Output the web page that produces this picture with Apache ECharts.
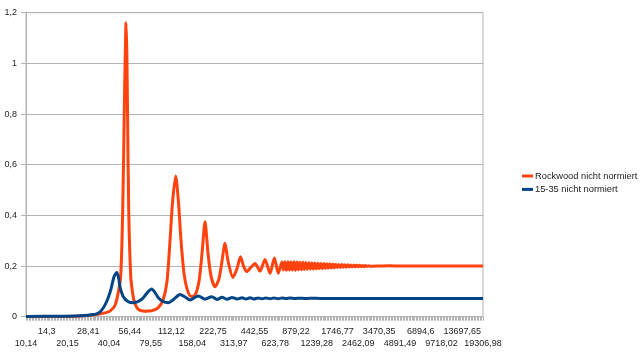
<!DOCTYPE html>
<html>
<head>
<meta charset="utf-8">
<script src="https://cdn.jsdelivr.net/npm/echarts@6/dist/echarts.min.js"></script>
<style>html,body{margin:0;padding:0;background:#fff}#c{width:640px;height:360px}</style>
</head>
<body>
<div id="c"></div>
<script>
// X tick labels (category positions 0..22)
const tickLabels = ['10,14','14,3','20,15','28,41','40,04','56,44','79,55','112,12','158,04','222,75','313,97','442,55','623,78','879,22','1239,28','1746,77','2462,09','3470,35','4891,49','6894,6','9718,02','13697,65','19306,98'];

// Rockwood nicht normiert: positions (in tick-label index units) and values
const rockwoodPos = [0,1.637,2.6,3.322,3.804,4.044,4.285,4.429,4.559,4.656,4.733,4.781,4.815,4.853,4.887,4.945,5.041,5.128,5.214,5.392,5.729,6.066,6.355,6.596,6.789,6.933,7.053,7.207,7.342,7.463,7.607,7.752,7.944,8.137,8.329,8.474,8.618,8.763,8.907,9.100,9.292,9.437,9.581,9.726,9.966,10.159,10.327,10.472,10.626,10.833,11.026,11.267,11.507,11.748,11.955,12.147,
  12.32,12.39,12.46,12.54,12.61,12.68,12.75,12.82,12.90,12.97,13.04,13.11,13.18,13.26,13.33,13.40,13.47,13.54,13.62,13.69,13.76,13.83,13.90,13.98,14.05,14.12,14.19,14.26,14.34,14.41,14.48,14.55,14.62,14.70,14.77,14.84,14.91,14.98,15.06,15.13,15.20,15.27,15.34,15.42,15.49,15.56,15.63,15.70,15.78,15.85,15.92,15.99,16.06,16.14,16.21,16.28,16.35,16.42,16.50,16.57,
  17.04,17.5,18,19,20,21,22];
const rockwoodVal = [0,0.001,0.003,0.008,0.015,0.022,0.045,0.09,0.16,0.42,0.82,1.05,1.16,1.05,0.82,0.42,0.16,0.095,0.06,0.03,0.022,0.024,0.035,0.065,0.14,0.30,0.45,0.555,0.45,0.30,0.17,0.11,0.08,0.085,0.14,0.25,0.375,0.25,0.16,0.118,0.15,0.22,0.29,0.22,0.155,0.19,0.237,0.20,0.178,0.195,0.21,0.18,0.226,0.171,0.232,0.172,
  0.216,0.184,0.217,0.183,0.217,0.184,0.216,0.184,0.217,0.183,0.216,0.185,0.215,0.185,0.215,0.186,0.214,0.187,0.213,0.188,0.212,0.188,0.212,0.189,0.211,0.190,0.210,0.190,0.210,0.191,0.209,0.191,0.209,0.192,0.208,0.193,0.207,0.194,0.206,0.194,0.206,0.195,0.205,0.195,0.205,0.196,0.204,0.196,0.204,0.197,0.203,0.197,0.203,0.198,0.202,0.198,0.202,0.199,0.201,0.199,
  0.2,0.201,0.2,0.2,0.2,0.2,0.2];

// 15-35 nicht normiert
const blue1535Pos = [0,1.637,2.6,3.081,3.404,3.645,3.885,4.078,4.237,4.367,4.453,4.526,4.685,4.925,5.166,5.571,5.84,6.052,6.211,6.37,6.596,6.851,7.126,7.414,7.655,7.896,8.089,8.296,8.618,8.941,9.196,9.437,9.677,9.918,10.159,10.4,10.592,10.785,10.977,11.17,11.363,11.555,11.748,11.94,12.133,12.326,12.518,12.711,12.951,13.192,13.43,13.674,14.2,16,19,22];
const blue1535Val = [0.001,0.002,0.004,0.007,0.011,0.026,0.06,0.105,0.158,0.174,0.155,0.118,0.079,0.059,0.055,0.069,0.095,0.109,0.095,0.075,0.06,0.055,0.07,0.088,0.078,0.066,0.074,0.082,0.069,0.079,0.068,0.077,0.069,0.076,0.07,0.075,0.07,0.075,0.07,0.074,0.071,0.074,0.071,0.074,0.071,0.0735,0.0715,0.0735,0.0718,0.0732,0.0718,0.0728,0.072,0.072,0.072,0.072];

const seriesNames = ['Rockwood nicht normiert', '15-35 nicht normiert'];
const zip = (a, b) => a.map((x, i) => [x, b[i]]);

const chart = echarts.init(document.getElementById('c'), null, {renderer: 'canvas'});
const gray = '#b3b3b3';
const txt = '#222';
const labelFor = (v, parity) => { const i = Math.round(v); return i % 2 === parity ? (tickLabels[i] || '') : ''; };
chart.setOption({
  animation: false,
  textStyle: {fontFamily: 'Liberation Sans, Arial, sans-serif'},
  grid: {left: 26, right: 157, top: 12.7, bottom: 43.3, show: true, borderColor: gray, borderWidth: 1, backgroundColor: 'transparent'},
  legend: {
    orient: 'vertical', left: 517, top: 166, itemWidth: 11, itemHeight: 3, itemGap: 3.4,
    icon: 'rect',
    textStyle: {fontSize: 9.3, color: txt, lineHeight: 10, padding: [0,0,0,-3]},
    data: seriesNames
  },
  xAxis: [{
    type: 'value', min: 0, max: 22, interval: 1, position: 'bottom',
    axisLine: {show: true, lineStyle: {color: gray}},
    axisTick: {show: true, length: 4, lineStyle: {color: gray}},
    minorTick: {show: true, splitNumber: 14, length: 4, lineStyle: {color: gray}},
    splitLine: {show: false},
    axisLabel: {fontSize: 9, color: txt, margin: 10.5, showMinLabel: true, showMaxLabel: true,
      formatter: v => labelFor(v, 1)}
  }, {
    type: 'value', min: 0, max: 22, interval: 1, position: 'bottom',
    axisLine: {show: false}, axisTick: {show: false}, splitLine: {show: false},
    axisLabel: {fontSize: 9, color: txt, margin: 22, showMinLabel: true, showMaxLabel: true,
      formatter: v => labelFor(v, 0)}
  }],
  yAxis: {
    type: 'value', min: 0, max: 1.2, interval: 0.2,
    axisLine: {show: true, lineStyle: {color: gray}},
    axisTick: {show: true, length: 5, lineStyle: {color: gray}},
    splitLine: {show: true, lineStyle: {color: gray, width: 1}},
    axisLabel: {fontSize: 9, color: txt, margin: 9, formatter: v => String(+v.toFixed(1)).replace('.', ',')}
  },
  series: [
    {name: seriesNames[0], type: 'line', xAxisIndex: 0, data: zip(rockwoodPos, rockwoodVal), showSymbol: false, smooth: 0.25,
     lineStyle: {color: '#ff420e', width: 3}, itemStyle: {color: '#ff420e'}},
    {name: seriesNames[1], type: 'line', xAxisIndex: 0, data: zip(blue1535Pos, blue1535Val), showSymbol: false, smooth: 0.25,
     lineStyle: {color: '#004586', width: 3}, itemStyle: {color: '#004586'}}
  ]
});
</script>
</body>
</html>
